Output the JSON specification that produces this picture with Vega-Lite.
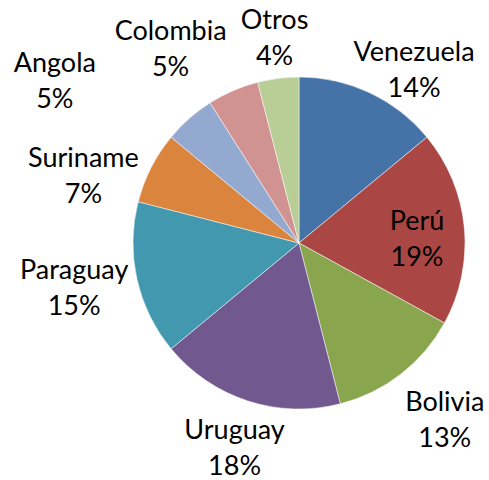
{
  "$schema": "https://vega.github.io/schema/vega-lite/v6.json",
  "width": 380,
  "height": 474,
  "autosize": "none",
  "padding": {"left": 109, "top": 6, "right": 0, "bottom": 0},
  "background": "white",
  "config": {"view": {"stroke": null}},
  "data": {
    "values": [
      {"country": "Venezuela", "pct": 14},
      {"country": "Perú", "pct": 19},
      {"country": "Bolivia", "pct": 13},
      {"country": "Uruguay", "pct": 18},
      {"country": "Paraguay", "pct": 15},
      {"country": "Suriname", "pct": 7},
      {"country": "Angola", "pct": 5},
      {"country": "Colombia", "pct": 5},
      {"country": "Otros", "pct": 4}
    ]
  },
  "transform": [
    {"window": [{"op": "row_number", "as": "rank"}]},
    {"stack": "pct", "groupby": [], "sort": [{"field": "rank", "order": "ascending"}], "as": ["s0", "s1"]},
    {"calculate": "(datum.s0 + datum.s1) / 2", "as": "mid"},
    {"calculate": "datum.country + '\\n' + datum.pct + '%'", "as": "label"}
  ],
  "layer": [
    {
      "mark": {"type": "arc", "outerRadius": 166, "stroke": "white", "strokeWidth": 0.5},
      "encoding": {
        "theta": {"field": "s0", "type": "quantitative", "stack": null, "scale": {"domain": [0, 100]}},
        "theta2": {"field": "s1"},
        "color": {
          "field": "country", "type": "nominal", "legend": null,
          "scale": {
            "domain": ["Venezuela", "Perú", "Bolivia", "Uruguay", "Paraguay", "Suriname", "Angola", "Colombia", "Otros"],
            "range": ["#4572A7", "#AA4643", "#89A54E", "#71588F", "#4198AF", "#DB843D", "#93A9CF", "#D19392", "#B9CD96"]
          }
        }
      }
    },
    {
      "transform": [{"filter": "datum.country == 'Venezuela'"}],
      "mark": {"type": "text", "radius": 215, "dx": 23.5, "dy": 4.5, "font": "Lato", "fontSize": 27, "lineHeight": 36, "lineBreak": "\n", "color": "black", "align": "center", "baseline": "middle"},
      "encoding": {"theta": {"field": "mid", "type": "quantitative", "stack": null, "scale": {"domain": [0, 100]}}, "text": {"field": "label"}}
    },
    {
      "transform": [{"filter": "datum.country == 'Perú'"}],
      "mark": {"type": "text", "radius": 118, "dx": 0.5, "dy": -10, "font": "Lato", "fontSize": 27, "lineHeight": 36, "lineBreak": "\n", "color": "black", "align": "center", "baseline": "middle"},
      "encoding": {"theta": {"field": "mid", "type": "quantitative", "stack": null, "scale": {"domain": [0, 100]}}, "text": {"field": "label"}}
    },
    {
      "transform": [{"filter": "datum.country == 'Bolivia'"}],
      "mark": {"type": "text", "radius": 215, "dx": 14, "dy": -10, "font": "Lato", "fontSize": 27, "lineHeight": 36, "lineBreak": "\n", "color": "black", "align": "center", "baseline": "middle"},
      "encoding": {"theta": {"field": "mid", "type": "quantitative", "stack": null, "scale": {"domain": [0, 100]}}, "text": {"field": "label"}}
    },
    {
      "transform": [{"filter": "datum.country == 'Uruguay'"}],
      "mark": {"type": "text", "radius": 215, "dx": 2, "dy": -16.5, "font": "Lato", "fontSize": 27, "lineHeight": 36, "lineBreak": "\n", "color": "black", "align": "center", "baseline": "middle"},
      "encoding": {"theta": {"field": "mid", "type": "quantitative", "stack": null, "scale": {"domain": [0, 100]}}, "text": {"field": "label"}}
    },
    {
      "transform": [{"filter": "datum.country == 'Paraguay'"}],
      "mark": {"type": "text", "radius": 215, "dx": -15, "dy": -19, "font": "Lato", "fontSize": 27, "lineHeight": 36, "lineBreak": "\n", "color": "black", "align": "center", "baseline": "middle"},
      "encoding": {"theta": {"field": "mid", "type": "quantitative", "stack": null, "scale": {"domain": [0, 100]}}, "text": {"field": "label"}}
    },
    {
      "transform": [{"filter": "datum.country == 'Suriname'"}],
      "mark": {"type": "text", "radius": 215, "dx": -24, "dy": 14, "font": "Lato", "fontSize": 27, "lineHeight": 36, "lineBreak": "\n", "color": "black", "align": "center", "baseline": "middle"},
      "encoding": {"theta": {"field": "mid", "type": "quantitative", "stack": null, "scale": {"domain": [0, 100]}}, "text": {"field": "label"}}
    },
    {
      "transform": [{"filter": "datum.country == 'Angola'"}],
      "mark": {"type": "text", "radius": 215, "dx": -102, "dy": -18, "font": "Lato", "fontSize": 27, "lineHeight": 36, "lineBreak": "\n", "color": "black", "align": "center", "baseline": "middle"},
      "encoding": {"theta": {"field": "mid", "type": "quantitative", "stack": null, "scale": {"domain": [0, 100]}}, "text": {"field": "label"}}
    },
    {
      "transform": [{"filter": "datum.country == 'Colombia'"}],
      "mark": {"type": "text", "radius": 215, "dx": -43, "dy": -14, "font": "Lato", "fontSize": 27, "lineHeight": 36, "lineBreak": "\n", "color": "black", "align": "center", "baseline": "middle"},
      "encoding": {"theta": {"field": "mid", "type": "quantitative", "stack": null, "scale": {"domain": [0, 100]}}, "text": {"field": "label"}}
    },
    {
      "transform": [{"filter": "datum.country == 'Otros'"}],
      "mark": {"type": "text", "radius": 215, "dx": 2.5, "dy": -9, "font": "Lato", "fontSize": 27, "lineHeight": 36, "lineBreak": "\n", "color": "black", "align": "center", "baseline": "middle"},
      "encoding": {"theta": {"field": "mid", "type": "quantitative", "stack": null, "scale": {"domain": [0, 100]}}, "text": {"field": "label"}}
    }
  ]
}
